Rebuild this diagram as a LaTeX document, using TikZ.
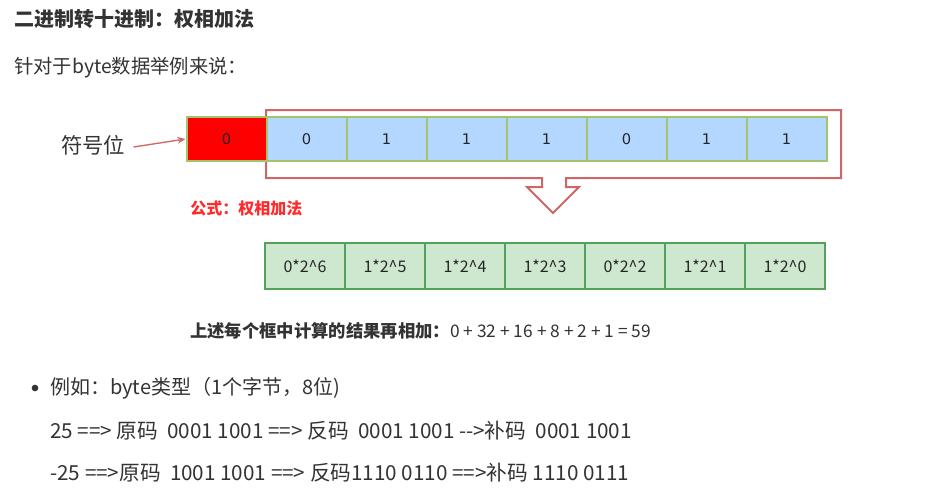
\documentclass[tikz,border=0pt]{standalone}
\usepackage{fontspec}
\setmainfont{Noto Sans CJK SC}
\newfontfamily\cjk{Noto Sans CJK SC}
\newfontfamily\cellnum{DejaVu Sans}
\usetikzlibrary{arrows.meta}
\definecolor{txt}{HTML}{333333}
\definecolor{cellred}{HTML}{FF0000}
\definecolor{cellblue}{HTML}{B3D7FF}
\definecolor{bordlg}{HTML}{A3C46C}
\definecolor{outred}{HTML}{D06565}
\definecolor{cellgreen}{HTML}{CDE8CF}
\definecolor{bordg}{HTML}{56A15A}
\definecolor{formred}{HTML}{FF2A2A}
\begin{document}
\begin{tikzpicture}[x=0.75pt,y=-0.75pt,
  topcell/.style={draw=bordlg,line width=1.5pt,fill=cellblue,minimum width=60pt,minimum height=32.5pt,inner sep=0pt,font=\cellnum\fontsize{11pt}{13pt}\selectfont,text=black!85,anchor=center},
  botcell/.style={draw=bordg,line width=1.5pt,fill=cellgreen,minimum width=60pt,minimum height=34.5pt,inner sep=0pt,font=\cjk\fontsize{12pt}{14pt}\selectfont,text=black!85},
  body/.style={anchor=west,inner sep=0pt,text=txt,font=\cjk\fontsize{15pt}{18pt}\selectfont}]
\useasboundingbox[fill=white] (0,0) rectangle (927,497);
% title and intro
\node[body,font=\cjk\bfseries\fontsize{15pt}{18pt}\selectfont] (title) at (14,19) {二进制转十进制：权相加法};
\node[body,font=\cjk\fontsize{14.5pt}{18pt}\selectfont] (intro) at (14,68) {针对于byte数据举例来说：};
% red outline with down arrow
\draw[outred,line width=1.5pt,line join=miter]
  (542,178) -- (266,178) -- (266,110) -- (841,110) -- (841,178) -- (566,178)
  -- (566,187) -- (579,187) -- (553,213) -- (527,187) -- (542,187) -- cycle;
% top row
\node[topcell,fill=cellred] (t0) at (226.5,139) {0};
\foreach \v [count=\i] in {0,1,1,1,0,1,1} {
  \node[topcell] (t\i) at ({226.5+80*\i},139) {\v};
}
% sign label
\node[anchor=west,inner sep=0pt,text=txt,font=\cjk\fontsize{16pt}{19pt}\selectfont] (sign) at (61,145) {符号位};
\draw[outred,line width=1pt,-{Stealth[length=6pt,width=5pt]}] ([xshift=6pt,yshift=-1.5pt]sign.east) -- (t0.west);
% formula label
\node[anchor=west,inner sep=0pt,text=formred,font=\cjk\bfseries\fontsize{12pt}{14pt}\selectfont] (formula) at (190,208) {公式：权相加法};
% bottom row
\foreach \v [count=\i] in {0*2\^{}6,1*2\^{}5,1*2\^{}4,1*2\^{}3,0*2\^{}2,1*2\^{}1,1*2\^{}0} {
  \node[botcell] (b\i) at ({225+80*\i},266) {\v};
}
% sum text
\node[anchor=west,inner sep=0pt,text=txt,font=\cjk\fontsize{13pt}{15pt}\selectfont] (sum) at (190,331) {\textbf{上述每个框中计算的结果再相加：}0 + 32 + 16 + 8 + 2 + 1 = 59};
% bullet list
\node[circle,fill=txt,inner sep=0pt,minimum size=5pt] (bullet) at (35,388) {};
\node[body] (ex) at (50,388) {例如：byte类型（1个字节，8位)};
\node[body,font=\cjk\fontsize{15.5pt}{18pt}\selectfont] (l1) at (50,431) {25 ==> 原码\ \ 0001 1001 ==> 反码\ \ 0001 1001 -->补码\ \ 0001 1001};
\node[body,font=\cjk\fontsize{15.5pt}{18pt}\selectfont] (l2) at (50,473) {-25 ==>原码\ \ 1001 1001 ==> 反码1110 0110 ==>补码 1110 0111};
\end{tikzpicture}
\end{document}
